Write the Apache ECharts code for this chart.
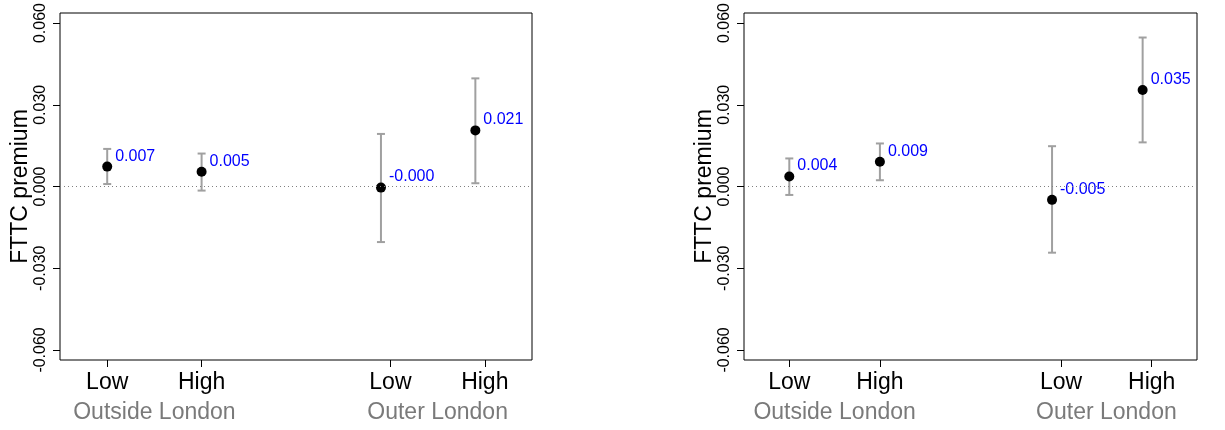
<!DOCTYPE html>
<html>
<head>
<meta charset="utf-8">
<script src="https://cdn.jsdelivr.net/npm/echarts@6/dist/echarts.min.js"></script>
<style>
html,body{margin:0;padding:0;background:#fff;}
#c{width:1225px;height:430px;}
</style>
</head>
<body>
<div id="c"></div>
<script>
// ---- data ----
const categories = ['Low', 'High', 'Low', 'High'];
const groups = ['Outside London', 'Outer London'];
const categoryTicks = [1, 2, 4, 5];
const groupCentres = [1.5, 4.5];
const pointX = [1, 2, 3.9, 4.9];
const yTicks = [-0.06, -0.03, 0, 0.03, 0.06];

const leftEst  = [0.0073, 0.0054, -0.0004, 0.0206];
const leftLo   = [0.0009, -0.0015, -0.0204, 0.0012];
const leftHi   = [0.0138, 0.0121, 0.0193, 0.0397];

const rightEst = [0.0037, 0.0091, -0.0049, 0.0354];
const rightLo  = [-0.0031, 0.0023, -0.0243, 0.0162];
const rightHi  = [0.0103, 0.0158, 0.0148, 0.0547];

// ---- chart ----
const FONT = '"Liberation Sans", Arial, Helvetica, sans-serif';
const chart = echarts.init(document.getElementById('c'), null, {renderer: 'canvas'});

function errRender(params, api) {
  const x = api.value(0), lo = api.value(1), hi = api.value(2);
  const p1 = api.coord([x, hi]);
  const p2 = api.coord([x, lo]);
  const w = 4;
  const st = {stroke: '#a0a0a0', lineWidth: 2};
  return {
    type: 'group',
    children: [
      {type: 'line', shape: {x1: p1[0], y1: p1[1], x2: p2[0], y2: p2[1]}, style: st},
      {type: 'line', shape: {x1: p1[0] - w, y1: p1[1], x2: p1[0] + w, y2: p1[1]}, style: st},
      {type: 'line', shape: {x1: p2[0] - w, y1: p2[1], x2: p2[0] + w, y2: p2[1]}, style: st}
    ]
  };
}

const grids = [
  {left: 60, top: 13, width: 472, bottom: 70},
  {left: 744, top: 13, right: 28, bottom: 70}
];

const xAxes = [], yAxes = [], series = [];
const panels = [[leftEst, leftLo, leftHi], [rightEst, rightLo, rightHi]];

grids.forEach((g, i) => {
  g.show = true;
  g.borderColor = '#000';
  g.borderWidth = 1;
  g.backgroundColor = 'transparent';
  xAxes.push({
    type: 'value', gridIndex: i, min: 0.5, max: 5.5, position: 'bottom',
    axisLine: {show: false, onZero: false}, splitLine: {show: false},
    axisTick: {show: true, customValues: categoryTicks, length: 7, lineStyle: {color: '#000', width: 1}},
    axisLabel: {
      customValues: categoryTicks, margin: 11, color: '#000', fontSize: 23, fontFamily: FONT,
      formatter: v => categories[categoryTicks.indexOf(Math.round(v))] || ''
    }
  });
  xAxes.push({
    type: 'value', gridIndex: i, min: 0.5, max: 5.5, position: 'bottom', offset: 0,
    axisLine: {show: false, onZero: false}, splitLine: {show: false}, axisTick: {show: false},
    axisLabel: {
      customValues: groupCentres, margin: 41, color: '#7a7a7a', fontSize: 23, fontFamily: FONT,
      formatter: v => groups[groupCentres.indexOf(v)] || ''
    }
  });
  yAxes.push({
    type: 'value', gridIndex: i, min: -0.0637, max: 0.0637,
    name: 'FTTC premium', nameLocation: 'middle', nameGap: 28, nameRotate: 90,
    nameTextStyle: {fontSize: 23, color: '#000', fontFamily: FONT},
    axisLine: {show: false, onZero: false}, splitLine: {show: false},
    axisTick: {show: true, customValues: yTicks, length: 7, lineStyle: {color: '#000', width: 1}},
    axisLabel: {
      customValues: yTicks, rotate: 90, margin: 11, color: '#000', fontSize: 16, fontFamily: FONT,
      formatter: v => v.toFixed(3)
    }
  });
  const [est, lo, hi] = panels[i];
  series.push({
    type: 'custom', xAxisIndex: i * 2, yAxisIndex: i,
    renderItem: errRender, silent: true,
    data: pointX.map((x, k) => [x, lo[k], hi[k]]),
    encode: {x: 0, y: [1, 2]}, z: 2
  });
  series.push({
    type: 'scatter', xAxisIndex: i * 2, yAxisIndex: i, symbol: 'circle', symbolSize: 10,
    itemStyle: {color: '#000', opacity: 1}, silent: true, z: 3,
    data: pointX.map((x, k) => [x, est[k]]),
    label: {
      show: true, position: 'right', distance: 3, offset: [0, -10.5],
      color: '#0000ff', fontSize: 16, fontFamily: FONT,
      formatter: p => p.value[1].toFixed(3)
    },
    markLine: {
      silent: true, symbol: 'none', animation: false,
      label: {show: false},
      lineStyle: {type: [1, 3], color: '#808080', width: 1},
      data: [{yAxis: 0}]
    }
  });
});

chart.setOption({
  animation: false,
  grid: grids,
  xAxis: xAxes,
  yAxis: yAxes,
  series: series
});
</script>
</body>
</html>
